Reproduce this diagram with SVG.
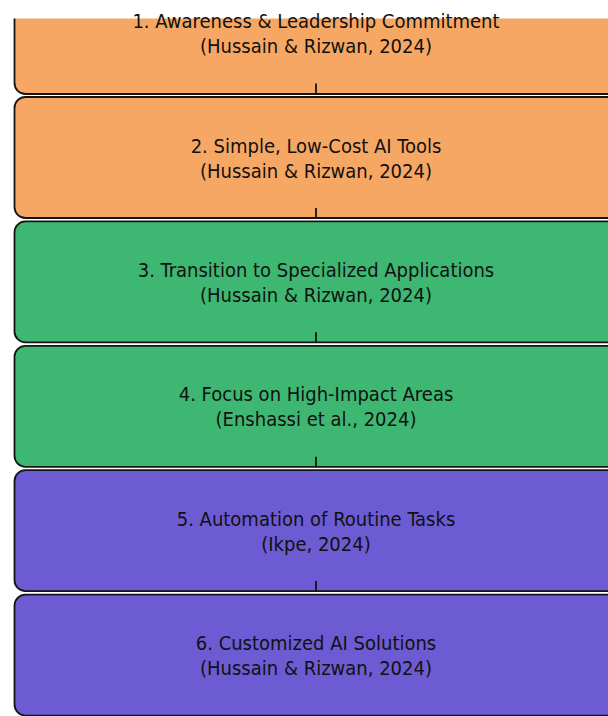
<svg xmlns="http://www.w3.org/2000/svg" width="608" height="716" viewBox="0 0 608 716">
  <style>
    .box { stroke: #141414; stroke-width: 1.8; }
    .orange { fill: #F6A764; }
    .green { fill: #3DB772; }
    .purple { fill: #6C5BD2; }
    .label { font-family: "DejaVu Sans Condensed", "DejaVu Sans", sans-serif; font-size: 20px; fill: #111; text-anchor: middle; }
    .link { stroke: #141414; stroke-width: 1.8; fill: none; }
  </style>
  <defs>
    <clipPath id="page">
      <rect x="0" y="18.5" width="608" height="698"/>
    </clipPath>
  </defs>
  <rect width="608" height="716" fill="#fff"/>

  <g id="step1" clip-path="url(#page)">
    <rect class="box orange" x="14.5" y="-27" width="604" height="121" rx="11"/>
  </g>
  <g id="step2">
    <rect class="box orange" x="14.5" y="97" width="604" height="121" rx="11"/>
    <text class="label" x="316" y="152.6">2. Simple, Low-Cost AI Tools</text>
    <text class="label" x="316" y="177.6">(Hussain &amp; Rizwan, 2024)</text>
  </g>
  <g id="step3">
    <rect class="box green" x="14.5" y="221.4" width="604" height="121" rx="11"/>
    <text class="label" x="316" y="277">3. Transition to Specialized Applications</text>
    <text class="label" x="316" y="302">(Hussain &amp; Rizwan, 2024)</text>
  </g>
  <g id="step4">
    <rect class="box green" x="14.5" y="345.8" width="604" height="121" rx="11"/>
    <text class="label" x="316" y="401.4">4. Focus on High-Impact Areas</text>
    <text class="label" x="316" y="426.4">(Enshassi et al., 2024)</text>
  </g>
  <g id="step5">
    <rect class="box purple" x="14.5" y="470.2" width="604" height="121" rx="11"/>
    <text class="label" x="316" y="525.8">5. Automation of Routine Tasks</text>
    <text class="label" x="316" y="550.8">(Ikpe, 2024)</text>
  </g>
  <g id="step6">
    <rect class="box purple" x="14.5" y="594.6" width="604" height="121" rx="11"/>
    <text class="label" x="316" y="650.2">6. Customized AI Solutions</text>
    <text class="label" x="316" y="675.2">(Hussain &amp; Rizwan, 2024)</text>
  </g>
  <g id="step1-text">
    <text class="label" x="316" y="28.2">1. Awareness &amp; Leadership Commitment</text>
    <text class="label" x="316" y="53.2">(Hussain &amp; Rizwan, 2024)</text>
  </g>

  <!-- short links at the foot of each step, pointing to the next one -->
  <g id="connectors">
    <line class="link" x1="316" y1="83.5" x2="316" y2="94"/>
    <line class="link" x1="316" y1="207.9" x2="316" y2="218.4"/>
    <line class="link" x1="316" y1="332.3" x2="316" y2="342.8"/>
    <line class="link" x1="316" y1="456.7" x2="316" y2="467.2"/>
    <line class="link" x1="316" y1="581.1" x2="316" y2="591.6"/>
  </g>
</svg>
